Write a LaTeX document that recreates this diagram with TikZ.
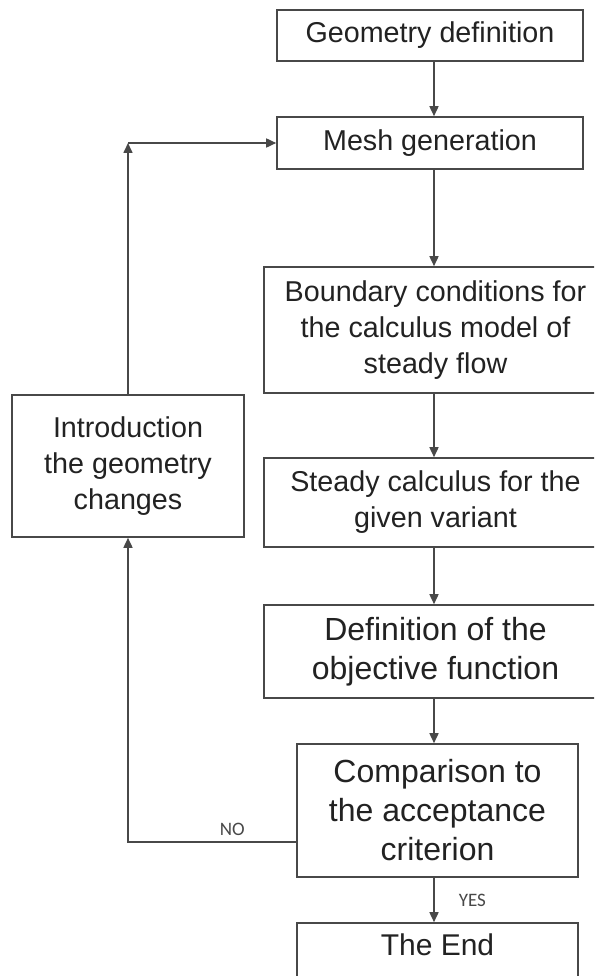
\documentclass[tikz,border=0pt]{standalone}
\usepackage{fontspec}
\setmainfont{Liberation Sans}
\newfontfamily\lblfont{Carlito}
\usetikzlibrary{arrows.meta}
\definecolor{linegray}{HTML}{484848}
\definecolor{txtgray}{HTML}{222222}
\tikzset{
  box/.style={draw=linegray, line width=1.6pt, rectangle, inner sep=0pt, align=center, text=txtgray},
  smalltxt/.style={font=\fontsize{28.7}{36}\selectfont},
  bigtxt/.style={font=\fontsize{32}{39}\selectfont},
  arr/.style={draw=linegray, line width=1.6pt, -{Triangle[length=10pt,width=9pt]}},
  lbl/.style={text=linegray, font=\lblfont\fontsize{19}{19}\selectfont, inner sep=0pt}
}
\begin{document}
\begin{tikzpicture}[x=1pt,y=-1pt]
\useasboundingbox (0,0) rectangle (594,976);
\clip (0,0) rectangle (594,976);
\fill[white] (0,0) rectangle (594,976);
% boxes
\node[box,smalltxt,minimum width=306pt,minimum height=51pt] (geo) at (430,35.5) {Geometry definition};
\node[box,smalltxt,minimum width=306pt,minimum height=52pt] (mesh) at (430,143) {Mesh generation};
\node[box,smalltxt,minimum width=343pt,minimum height=126pt] (bc) at (435.5,330) {Boundary conditions for\\the calculus model of\\steady flow};
\node[box,smalltxt,minimum width=343pt,minimum height=89pt] (steady) at (435.5,502.5) {Steady calculus for the\\given variant};
\node[box,bigtxt,minimum width=343pt,minimum height=93pt] (def) at (435.5,651.5) {Definition of the\\objective function};
\node[box,bigtxt,minimum width=281pt,minimum height=133pt] (comp) at (437.5,810.5) {Comparison to\\the acceptance\\criterion};
\node[box,minimum width=281pt,minimum height=60pt] (end) at (437.5,953) {};
\node[text=txtgray,font=\fontsize{30}{36}\selectfont,inner sep=0pt] (endtxt) at (437.5,945) {The End};
\node[box,smalltxt,minimum width=232pt,minimum height=142pt] (intro) at (128,466) {Introduction\\the geometry\\changes};
% axis for the main column
\coordinate (axis) at (434,0);
\coordinate (noy) at (0,842);
\coordinate (corner) at (intro.north |- mesh.west);
% main flow
\draw[arr] (geo.south -| axis) -- (mesh.north -| axis);
\draw[arr] (mesh.south -| axis) -- (bc.north -| axis);
\draw[arr] (bc.south -| axis) -- (steady.north -| axis);
\draw[arr] (steady.south -| axis) -- (def.north -| axis);
\draw[arr] (def.south -| axis) -- (comp.north -| axis);
\draw[arr] (comp.south -| axis) -- node[lbl,right=24pt,pos=0.52] (yes) {YES} (end.north -| axis);
% loop back
\draw[arr] (comp.west |- noy) -- node[lbl,above=6pt,pos=0.38] (no) {NO} (intro.south |- noy) -- (intro.south);
\draw[arr] (intro.north) -- (corner);
\draw[arr] (corner) -- (mesh.west);
\end{tikzpicture}
\end{document}
